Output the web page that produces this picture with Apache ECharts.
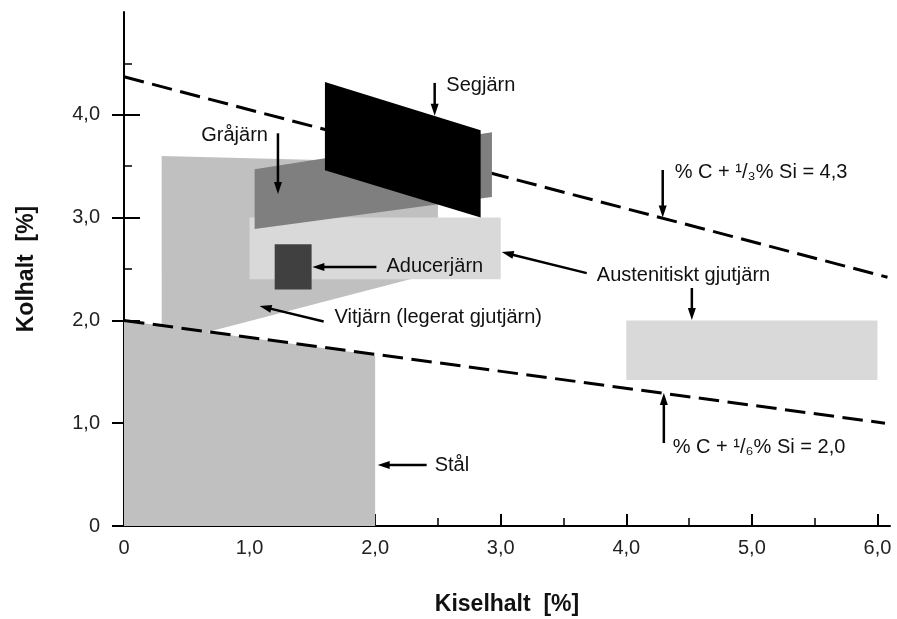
<!DOCTYPE html>
<html><head><meta charset="utf-8">
<script src="https://cdn.jsdelivr.net/npm/echarts@6/dist/echarts.min.js"></script>
<style>html,body{margin:0;padding:0;background:#fff}#c{width:897px;height:619px}</style>
</head><body><div id="c"></div>
<script>
// ---- axes ----
const xTicks = [0, 1, 2, 3, 4, 5, 6];
const xTickLabels = ['0', '1,0', '2,0', '3,0', '4,0', '5,0', '6,0'];
const xMinorTicks = [0.5, 1.5, 2.5, 3.5, 4.5, 5.5];
const yTicks = [0, 1, 2, 3, 4];
const yTickLabels = ['0', '1,0', '2,0', '3,0', '4,0'];
const yMinorTicks = [0.5, 1.5, 2.5, 3.5, 4.5];
const xTitle = 'Kiselhalt  [%]';
const yTitle = 'Kolhalt  [%]';

// ---- dashed limit lines (Si %, C %) ----
const lineUpper = [[0, 4.37], [6.08, 2.42]];   // % C + 1/3 % Si = 4,3
const lineLower = [[0, 2.0], [6.06, 1.0]];     // % C + 1/6 % Si = 2,0

// ---- regions (Si %, C %) ----
const regionVitjarn = [[0.3, 1.77], [0.3, 3.6], [2.5, 3.53], [2.5, 2.47]];
const regionStal = [[0, 0], [0, 2.0], [2.0, 1.66], [2.0, 0]];
const regionAustenit1 = [[1.0, 2.4], [1.0, 3.0], [3.0, 3.0], [3.0, 2.4]];
const regionAustenit2 = [[4.0, 1.42], [4.0, 2.0], [6.0, 2.0], [6.0, 1.42]];
const regionGrajarn = [[1.04, 2.89], [1.04, 3.47], [2.93, 3.83], [2.93, 3.2]];
const regionSegjarn = [[1.6, 3.46], [1.6, 4.32], [2.84, 3.85], [2.84, 3.0]];
const regionAducer = [[1.2, 2.3], [1.2, 2.74], [1.494, 2.74], [1.494, 2.3]];

// ---- annotations (anchor in Si %, C %) ----
const labelTexts = ['Segjärn', 'Gråjärn', 'Aducerjärn', 'Austenitiskt gjutjärn',
  'Vitjärn (legerat gjutjärn)', 'Stål', '% C + ¹/₃% Si = 4,3', '% C + ¹/₆% Si = 2,0'];
const labelAnchors = [[2.567, 4.29], [0.615, 3.80], [2.09, 2.52], [3.765, 2.44],
  [1.676, 2.03], [2.474, 0.593], [4.386, 3.44], [4.37, 0.76]];

// arrows: [fromX, fromY, toX, toY]
const arrows = [
  [2.474, 4.31, 2.474, 3.99],
  [1.226, 3.82, 1.226, 3.23],
  [2.01, 2.52, 1.50, 2.52],
  [3.685, 2.46, 3.008, 2.665],
  [4.522, 2.315, 4.522, 2.004],
  [1.59, 1.99, 1.08, 2.14],
  [2.41, 0.593, 2.02, 0.593],
  [4.29, 3.463, 4.29, 3.0],
  [4.299, 0.807, 4.299, 1.294]
];

const regions = [regionVitjarn, regionStal, regionAustenit1, regionAustenit2, regionGrajarn, regionSegjarn, regionAducer];
const regionFill = ['#c0c0c0', '#c0c0c0', '#d9d9d9', '#d9d9d9', '#7f7f7f', '#000000', '#404040'];

const FONT = '"Liberation Sans", Arial, Helvetica, sans-serif';
const chart = echarts.init(document.getElementById('c'), null, { renderer: 'canvas' });

function tickAxisBase() {
  return { type: 'value', min: 0, splitLine: { show: false }, axisLine: { show: false }, axisLabel: { show: false }, axisTick: { show: false } };
}

const option = {
  animation: false,
  backgroundColor: '#ffffff',
  grid: { left: 124, right: 7, top: 12, bottom: 93, outerBoundsMode: 'none' },
  xAxis: [
    Object.assign(tickAxisBase(), {
      max: 6.1, interval: 1, position: 'bottom',
      axisLine: { show: true, onZero: false, lineStyle: { color: '#000', width: 2 } },
      axisTick: { show: true, inside: true, length: 12, customValues: xTicks, lineStyle: { color: '#000', width: 2 } },
      axisLabel: { show: true, customValues: xTicks, margin: 12, color: '#222', fontSize: 20, fontFamily: FONT,
        formatter: v => xTickLabels[xTicks.indexOf(Math.round(v * 10) / 10)] ?? '' },
      name: xTitle, nameLocation: 'middle', nameGap: 67,
      nameTextStyle: { fontSize: 23, fontWeight: 'bold', color: '#111', fontFamily: FONT }
    }),
    Object.assign(tickAxisBase(), {
      max: 6.1, interval: 1, position: 'bottom',
      axisTick: { show: true, inside: true, length: 8, customValues: xMinorTicks, lineStyle: { color: '#000', width: 1.5 } }
    })
  ],
  yAxis: [
    Object.assign(tickAxisBase(), {
      max: 5, interval: 1, position: 'left',
      axisLine: { show: true, onZero: false, lineStyle: { color: '#000', width: 2 } },
      axisTick: { show: true, inside: false, length: 12, customValues: yTicks, lineStyle: { color: '#000', width: 2 } },
      axisLabel: { show: true, customValues: yTicks, margin: 24, color: '#222', fontSize: 20, fontFamily: FONT,
        formatter: v => yTickLabels[yTicks.indexOf(Math.round(v * 10) / 10)] ?? '' },
      name: yTitle, nameLocation: 'middle', nameGap: 86, nameRotate: 90,
      nameTextStyle: { fontSize: 23, fontWeight: 'bold', color: '#111', fontFamily: FONT }
    }),
    Object.assign(tickAxisBase(), {
      max: 5, interval: 1, position: 'left',
      axisTick: { show: true, inside: true, length: 16, customValues: yTicks, lineStyle: { color: '#000', width: 2 } }
    }),
    Object.assign(tickAxisBase(), {
      max: 5, interval: 1, position: 'left',
      axisTick: { show: true, inside: true, length: 8, customValues: yMinorTicks, lineStyle: { color: '#000', width: 1.5 } }
    })
  ],
  series: [
    {
      type: 'line', z: 1, data: lineUpper, symbol: 'none', clip: false, silent: true,
      lineStyle: { color: '#000', width: 3, type: [20.5, 8.5] }
    },
    {
      type: 'custom', z: 2, clip: false, silent: true,
      data: regions.map((r, i) => [r[0][0], r[0][1], i]),
      renderItem: (params, api) => {
        const i = api.value(2);
        const pts = regions[i].map(p => api.coord(p));
        return { type: 'polygon', shape: { points: pts }, style: { fill: regionFill[i] } };
      }
    },
    {
      type: 'line', z: 3, data: lineLower, symbol: 'none', clip: false, silent: true,
      lineStyle: { color: '#000', width: 3, type: [20.5, 8.5] }
    },
    {
      type: 'custom', z: 4, clip: false, silent: true,
      data: arrows.map(a => [a[0], a[1], a[2], a[3]]),
      renderItem: (params, api) => {
        const p1 = api.coord([api.value(0), api.value(1)]);
        const p2 = api.coord([api.value(2), api.value(3)]);
        const dx = p2[0] - p1[0], dy = p2[1] - p1[1];
        const len = Math.sqrt(dx * dx + dy * dy);
        const ux = dx / len, uy = dy / len;
        const hl = 12, hw = 4;
        const base = [p2[0] - ux * hl, p2[1] - uy * hl];
        return {
          type: 'group', children: [
            { type: 'line', shape: { x1: p1[0], y1: p1[1], x2: base[0] + ux * 2, y2: base[1] + uy * 2 }, style: { stroke: '#000', lineWidth: 2.5 } },
            { type: 'polygon', shape: { points: [p2, [base[0] - uy * hw, base[1] + ux * hw], [base[0] + uy * hw, base[1] - ux * hw]] }, style: { fill: '#000' } }
          ]
        };
      }
    },
    {
      type: 'custom', z: 5, clip: false, silent: true,
      data: labelAnchors.map((a, i) => [a[0], a[1], i]),
      renderItem: (params, api) => {
        const i = api.value(2);
        const p = api.coord([api.value(0), api.value(1)]);
        return {
          type: 'text', x: p[0], y: p[1],
          style: { text: labelTexts[i], fill: '#111', font: '20px ' + FONT, textAlign: 'left', textVerticalAlign: 'middle' }
        };
      }
    }
  ]
};
chart.setOption(option);
</script></body></html>
